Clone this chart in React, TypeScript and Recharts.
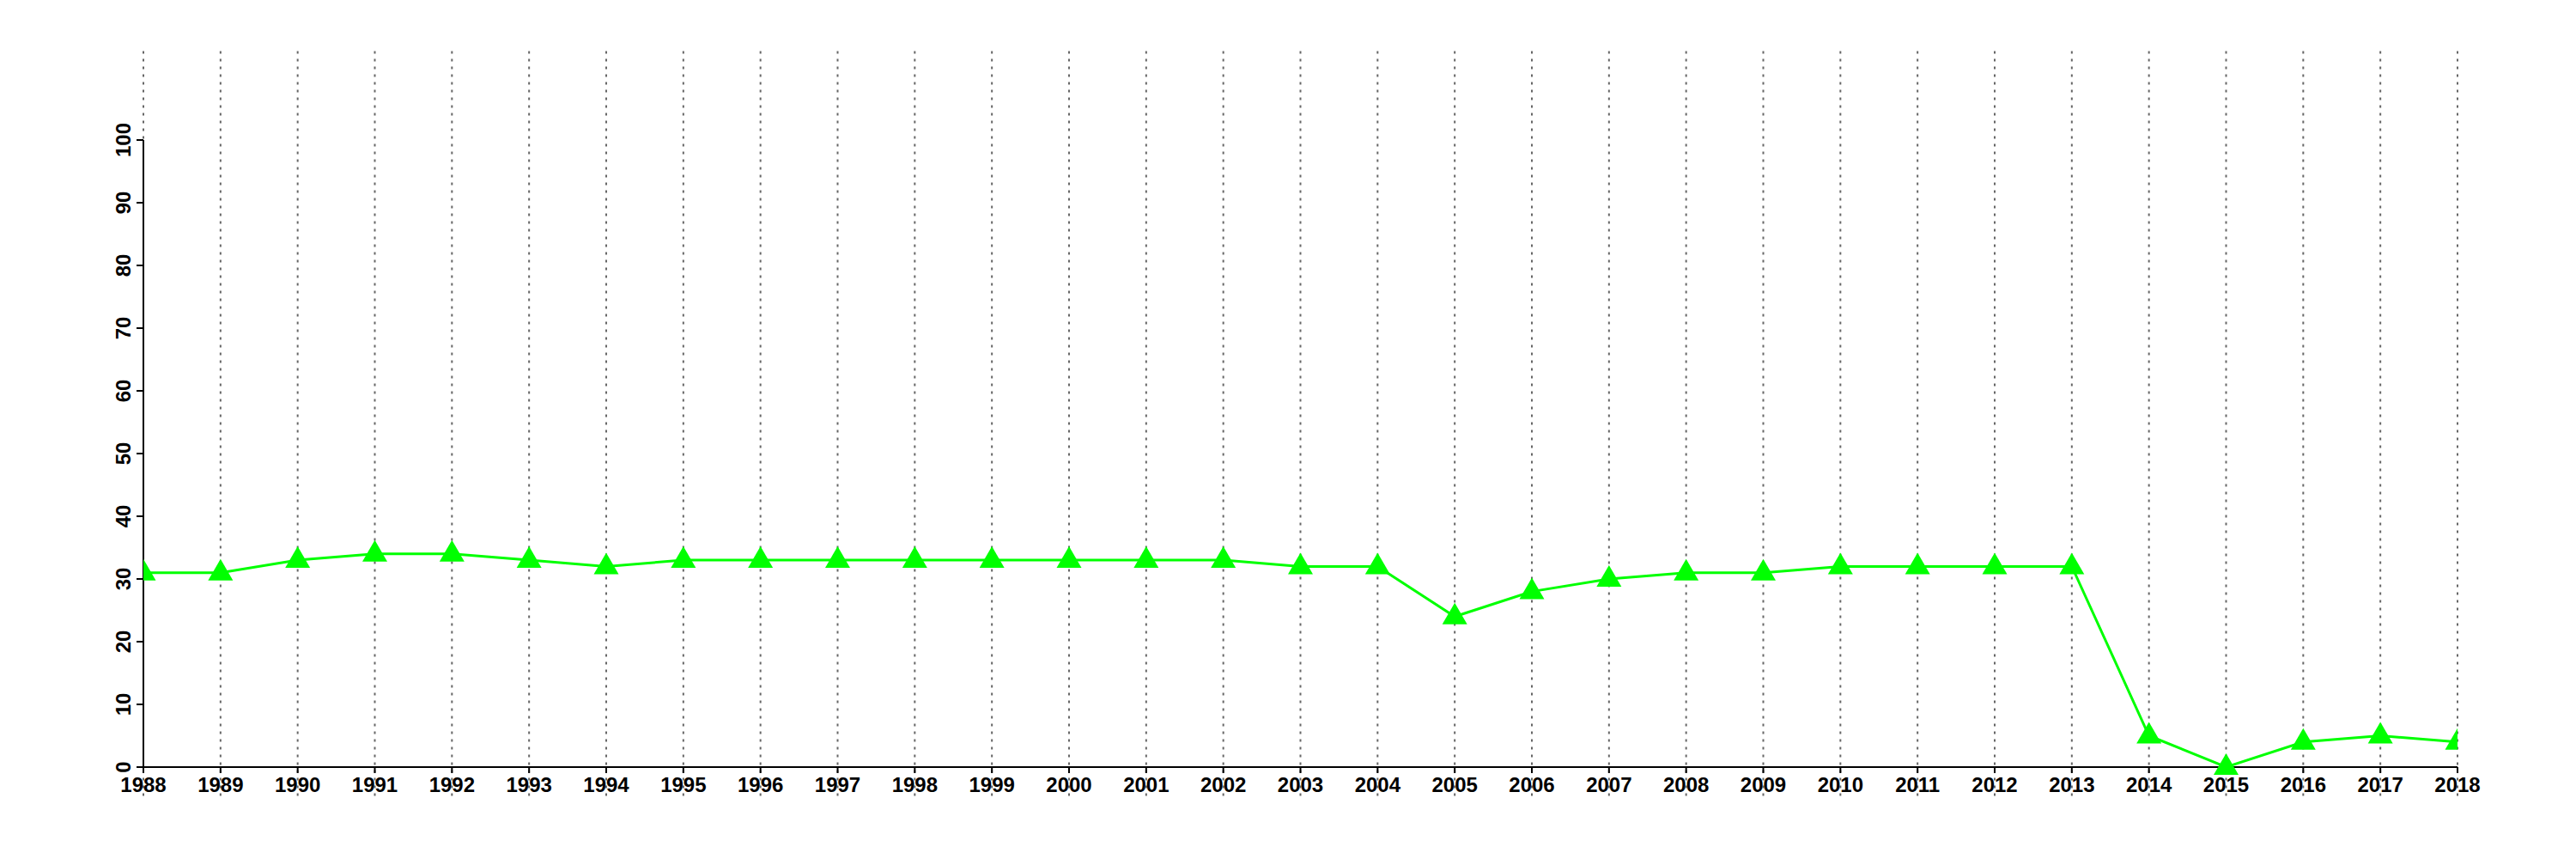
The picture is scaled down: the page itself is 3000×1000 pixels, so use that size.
import { LineChart, Line, XAxis, YAxis, ReferenceLine } from "recharts";

const YEARS = [
  1988, 1989, 1990, 1991, 1992, 1993, 1994, 1995, 1996, 1997, 1998, 1999,
  2000, 2001, 2002, 2003, 2004, 2005, 2006, 2007, 2008, 2009, 2010, 2011,
  2012, 2013, 2014, 2015, 2016, 2017, 2018,
];

const VALUES = [
  31, 31, 33, 34, 34, 33, 32, 33, 33, 33, 33, 33,
  33, 33, 33, 32, 32, 24, 28, 30, 31, 31, 32, 32,
  32, 32, 5, 0, 4, 5, 4,
];

const Y_TICKS = [0, 10, 20, 30, 40, 50, 60, 70, 80, 90, 100];

const data = YEARS.map((year, i) => ({ year, value: VALUES[i] }));

const FONT = "'Liberation Sans', Arial, sans-serif";

const GREEN = "#00ff00";

function Triangle(props: any) {
  const { cx, cy } = props;
  if (cx == null || cy == null) return null;
  return (
    <polygon
      points={`${cx},${cy - 16} ${cx - 14.5},${cy + 9} ${cx + 14.5},${cy + 9}`}
      fill={GREEN}
    />
  );
}

function XTick(props: any) {
  const { x, y, payload } = props;
  return (
    <text
      x={x}
      y={y + 20}
      textAnchor="middle"
      fontFamily={FONT}
      fontWeight="bold"
      fontSize={24}
      fill="#000"
    >
      {payload.value}
    </text>
  );
}

function YTick(props: any) {
  const { y, payload } = props;
  const x = 152;
  return (
    <text
      x={x}
      y={y}
      transform={`rotate(-90, ${x}, ${y})`}
      textAnchor="middle"
      fontFamily={FONT}
      fontWeight="bold"
      fontSize={24}
      fill="#000"
    >
      {payload.value}
    </text>
  );
}

export default function App() {
  return (
    <div style={{ position: "absolute", left: 0, top: 0, background: "#fff" }}>
      <LineChart
        width={3000}
        height={1000}
        data={data}
        margin={{ top: 163, right: 138, bottom: 47, left: 107 }}
      >
        <XAxis
          dataKey="year"
          type="number"
          domain={[1988, 2018]}
          ticks={YEARS}
          interval={0}
          allowDataOverflow
          height={60}
          tick={<XTick />}
          tickSize={7}
          axisLine={{ stroke: "#000", strokeWidth: 2 }}
          tickLine={{ stroke: "#000", strokeWidth: 2 }}
        />
        <YAxis
          type="number"
          domain={[0, 100]}
          ticks={Y_TICKS}
          interval={0}
          width={60}
          tick={<YTick />}
          tickSize={8}
          axisLine={{ stroke: "#000", strokeWidth: 2 }}
          tickLine={{ stroke: "#000", strokeWidth: 2 }}
        />
        <Line
          dataKey="value"
          stroke={GREEN}
          strokeWidth={3}
          dot={<Triangle />}
          activeDot={false}
          isAnimationActive={false}
        />
        {YEARS.map((year) => (
          <ReferenceLine
            key={year}
            segment={[
              { x: year, y: -4.6 },
              { x: year, y: 114.2 },
            ]}
            ifOverflow="visible"
            stroke="#666"
            strokeWidth={2}
            strokeDasharray="3 6"
          />
        ))}
      </LineChart>
    </div>
  );
}
